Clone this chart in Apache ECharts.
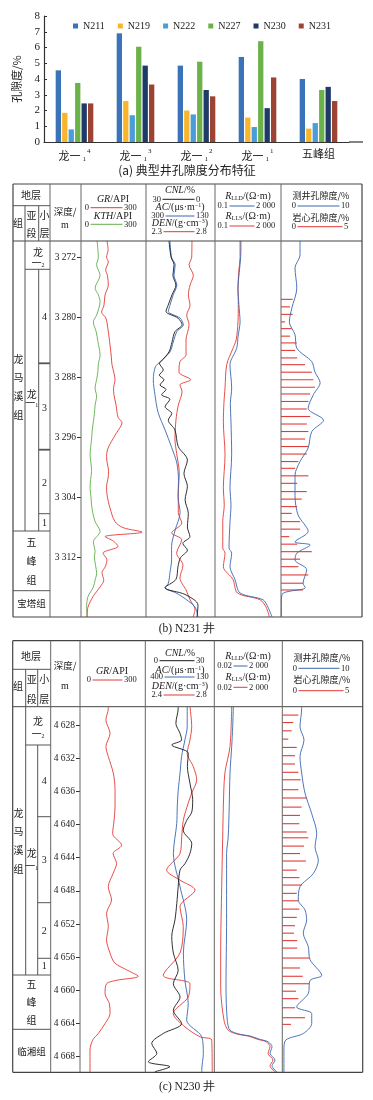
<!DOCTYPE html>
<html><head><meta charset="utf-8">
<script src="https://cdn.jsdelivr.net/npm/echarts@6/dist/echarts.min.js"></script>
<style>html,body{margin:0;padding:0;background:#fff}#c{width:373px;height:1100px}</style>
</head><body><div id="c"></div>
<script>
// ================= (a) porosity bars =================
const categories = ['龙一₁⁴','龙一₁³','龙一₁²','龙一₁¹','五峰组'];
const catMain = ['龙一','龙一','龙一','龙一','五峰组'];
const catSub = ['1','1','1','1',''];
const catSup = ['4','3','2','1',''];
const wells = ['N211','N219','N222','N227','N230','N231'];
const porN211 = [4.55, 6.9, 4.85, 5.4, 4.0];
const porN219 = [1.85, 2.6, 2.0, 1.55, 0.85];
const porN222 = [0.8, 1.7, 1.75, 0.95, 1.2];
const porN227 = [3.75, 6.05, 5.1, 6.4, 3.3];
const porN230 = [2.45, 4.85, 3.3, 2.15, 3.5];
const porN231 = [2.45, 3.65, 2.9, 4.1, 2.6];
const yTicksA = [0,1,2,3,4,5,6,7,8];

// ================= (b) N231 well =================
const depthTicksB = [3272,3280,3288,3296,3304,3312];
const grB = [[120,3269.8],[125,3271.0],[118,3272.0],[126,3272.6],[114,3273.7],[122,3274.4],[126,3275.7],[111,3277.0],[106,3278.4],[95,3279.3],[115,3280.1],[125,3281.7],[134,3283.7],[140,3285.3],[143,3286.3],[157,3288.3],[150,3289.5],[152,3290.3],[162,3291.7],[171,3293.3],[189,3294.0],[157,3295.7],[125,3297.4],[118,3298.5],[120,3299.2],[127,3300.5],[125,3301.4],[118,3302.5],[120,3303.6],[134,3305.4],[157,3307.2],[194,3308.0],[282,3308.6],[111,3309.2],[150,3309.8],[171,3310.5],[101,3311.4],[120,3312.3],[112,3313.2],[97,3314.0],[105,3315.0],[88,3315.9],[55,3317.2],[32,3318.6],[28,3319.9]];
const kthB = [[74,3269.8],[80,3272.0],[72,3273.0],[88,3274.4],[65,3276.1],[80,3277.0],[88,3277.9],[72,3279.7],[57,3280.6],[70,3281.9],[78,3283.2],[88,3285.0],[80,3286.2],[78,3287.2],[72,3288.3],[65,3289.4],[72,3290.5],[65,3291.7],[62,3292.8],[57,3293.9],[52,3295.0],[49,3296.1],[45,3297.2],[42,3298.3],[46,3299.4],[49,3300.5],[44,3301.6],[42,3302.8],[46,3303.9],[49,3305.0],[55,3306.1],[65,3307.2],[88,3308.5],[57,3309.9],[65,3311.2],[62,3311.9],[72,3314.1],[65,3315.0],[57,3315.9],[32,3317.2],[26,3318.5],[28,3319.9]];
const acB = [[241,3269.8],[237,3272.0],[228,3273.0],[231,3274.4],[224,3275.7],[233,3277.0],[241,3278.4],[245,3279.2],[216,3280.1],[208,3281.0],[224,3281.9],[233,3283.3],[241,3284.6],[265,3285.9],[277,3286.6],[282,3288.3],[278,3290.3],[270,3292.7],[253,3295.0],[237,3297.3],[224,3299.4],[220,3301.7],[221,3303.9],[216,3306.0],[228,3308.3],[237,3310.5],[237,3312.3],[241,3314.0],[245,3315.4],[253,3316.0],[226,3316.7],[200,3317.6],[179,3318.6],[172,3319.9]];
const cnlB = [[20.0,3269.8],[19.1,3272.0],[17.8,3273.0],[18.3,3274.4],[17.0,3275.7],[18.7,3277.0],[20.4,3278.4],[21.3,3279.2],[16.1,3280.1],[14.3,3281.0],[17.4,3281.9],[18.7,3283.3],[20.0,3284.6],[23.5,3285.9],[24.2,3286.1],[22.5,3287.0],[24.2,3287.7],[22.2,3288.3],[23.9,3289.0],[21.3,3289.6],[23.2,3290.3],[19.6,3290.9],[21.7,3291.9],[18.8,3292.8],[20.3,3293.7],[17.4,3295.0],[16.0,3297.2],[12.0,3299.0],[13.5,3300.8],[12.0,3302.5],[13.0,3304.3],[11.6,3306.1],[12.0,3307.9],[10.9,3309.2],[14.0,3310.1],[12.0,3311.0],[15.0,3312.0],[16.1,3313.2],[17.0,3314.9],[21.7,3316.0],[13.0,3316.9],[7.4,3318.3],[7.8,3319.9]];
const denB = [[2.633,3269.8],[2.631,3272.0],[2.612,3273.0],[2.643,3274.4],[2.619,3275.7],[2.607,3277.0],[2.619,3278.4],[2.595,3279.7],[2.612,3281.0],[2.590,3283.0],[2.590,3285.0],[2.546,3285.9],[2.539,3287.3],[2.624,3288.3],[2.546,3289.0],[2.561,3289.9],[2.534,3291.7],[2.517,3293.7],[2.510,3296.3],[2.522,3298.1],[2.541,3300.7],[2.534,3303.4],[2.534,3306.0],[2.559,3307.4],[2.486,3308.7],[2.559,3309.6],[2.522,3311.4],[2.568,3313.0],[2.546,3314.7],[2.590,3316.3],[2.619,3317.6],[2.655,3318.9],[2.641,3319.9]];
const rlldB = [[4.9,3269.8],[4.7,3272.0],[3.8,3274.0],[3.15,3276.1],[3.6,3278.3],[4.3,3280.6],[3.2,3282.5],[2.6,3284.1],[0.95,3286.3],[1.22,3289.4],[1.0,3291.5],[1.1,3293.9],[1.22,3298.3],[0.95,3302.7],[1.1,3305.0],[0.95,3307.2],[0.82,3310.7],[1.22,3311.4],[0.95,3313.2],[2.0,3314.9],[4.3,3316.7],[134,3317.6],[284,3318.6],[520,3319.9]];
const rllsB = [[4.3,3269.8],[4.3,3272.0],[3.5,3274.0],[3.15,3276.1],[3.3,3278.3],[3.15,3280.6],[2.4,3283.0],[1.49,3284.1],[0.58,3286.3],[0.45,3289.4],[0.38,3291.5],[0.35,3293.9],[0.45,3298.3],[0.35,3302.7],[0.4,3305.0],[0.32,3307.2],[0.32,3310.7],[0.45,3311.4],[0.35,3313.2],[1.49,3314.9],[2.9,3316.7],[86,3317.6],[215,3318.6],[350,3319.9]];
const porLogB = [[2.35,3269.8],[2.35,3271.7],[1.73,3273.4],[1.95,3276.1],[1.33,3278.8],[1.03,3280.6],[1.73,3282.3],[1.95,3284.1],[3.8,3285.9],[4.2,3287.3],[4.83,3288.7],[4.0,3290.3],[3.35,3292.1],[5.24,3293.7],[3.8,3295.2],[3.35,3297.4],[2.35,3299.2],[1.73,3301.0],[1.73,3303.7],[2.1,3306.3],[3.35,3308.5],[1.73,3309.9],[3.6,3310.3],[1.95,3311.4],[1.73,3312.3],[3.18,3313.6],[2.73,3315.4],[3.0,3316.0],[0.29,3316.7],[0.05,3317.6],[0.05,3319.9]];
const porCoreB = [[0.72,3277.6],[0.56,3278.6],[0.72,3279.6],[0.25,3280.6],[0.66,3281.5],[0.56,3282.5],[0.97,3283.4],[0.87,3284.4],[1.0,3285.4],[1.49,3286.3],[1.9,3287.3],[2.0,3288.3],[2.1,3289.3],[1.8,3290.2],[1.69,3291.2],[1.59,3292.2],[1.8,3293.2],[1.59,3294.2],[1.69,3295.2],[1.49,3296.2],[1.69,3297.2],[1.59,3298.2],[1.07,3299.2],[0.87,3300.1],[1.69,3301.1],[1.0,3302.1],[1.59,3303.2],[1.28,3304.2],[1.0,3305.2],[0.66,3306.1],[1.18,3307.2],[1.18,3308.2],[0.51,3309.2],[1.0,3310.2],[1.9,3311.2],[1.18,3312.2],[1.07,3313.2],[1.69,3314.3],[1.36,3315.4],[1.36,3316.3]];

// ================= (c) N230 well =================
const depthTicksC = [4628,4632,4636,4640,4644,4648,4652,4656,4660,4664,4668];
const grC = [[130,4625.8],[130,4626.0],[119,4627.4],[138,4629.0],[119,4630.6],[130,4631.8],[153,4633.8],[161,4635.8],[161,4637.9],[156,4639.6],[150,4641.1],[191,4642.5],[152,4643.5],[168,4644.7],[152,4645.9],[130,4647.5],[145,4649.1],[122,4650.7],[130,4652.3],[122,4653.9],[138,4655.5],[160,4656.7],[220,4657.6],[268,4658.3],[165,4658.8],[122,4659.2],[115,4660.4],[135,4661.6],[138,4662.8],[115,4664.0],[84,4665.2],[58,4666.0],[46,4667.2],[46,4669.9]];
const cnlC = [[14.3,4625.8],[14.3,4626.0],[13.3,4627.8],[15.1,4629.0],[15.8,4629.8],[11.5,4630.4],[18.7,4631.4],[18.3,4633.0],[19.4,4635.0],[20.6,4637.0],[20.2,4638.5],[18.0,4639.5],[16.5,4640.7],[20.2,4642.3],[19.4,4643.5],[17.3,4644.7],[15.1,4645.5],[14.3,4647.5],[13.7,4649.5],[12.9,4651.5],[11.5,4653.5],[12.2,4655.5],[14.3,4657.6],[12.2,4659.2],[15.1,4660.8],[12.2,4662.4],[15.8,4664.0],[7.8,4665.2],[2.8,4666.4],[5.0,4667.6],[1.3,4668.6],[10.7,4669.2],[4.2,4669.8]];
const acC = [[236,4625.8],[236,4628.2],[245,4629.8],[258,4631.8],[264,4633.8],[271,4635.8],[275,4637.9],[277,4639.9],[290,4643.5],[264,4647.5],[238,4651.5],[251,4655.5],[245,4658.8],[232,4661.6],[238,4663.6],[179,4665.6],[173,4667.6],[179,4669.6],[179,4669.9]];
const denC = [[2.659,4625.8],[2.669,4628.2],[2.659,4629.8],[2.643,4631.4],[2.678,4633.0],[2.698,4634.6],[2.669,4636.2],[2.649,4637.4],[2.620,4639.5],[2.611,4641.5],[2.601,4643.5],[2.524,4645.5],[2.601,4646.7],[2.688,4647.9],[2.601,4649.9],[2.620,4652.3],[2.601,4655.5],[2.504,4658.2],[2.659,4659.2],[2.649,4660.8],[2.562,4662.8],[2.630,4664.4],[2.717,4665.6],[2.785,4666.0],[2.788,4669.9]];
const rlldC = [[0.5,4625.8],[0.45,4628.2],[0.38,4630.6],[0.285,4633.8],[0.25,4637.9],[0.21,4641.5],[0.16,4643.5],[0.16,4651.5],[0.145,4659.6],[0.18,4663.6],[0.285,4664.8],[1.6,4665.3],[8.5,4665.5],[44,4665.9],[180,4666.2],[350,4666.8],[250,4667.6],[580,4668.4],[350,4669.1],[900,4669.9]];
const rllsC = [[0.38,4625.8],[0.285,4630.6],[0.12,4633.8],[0.092,4637.9],[0.083,4641.5],[0.07,4647.5],[0.059,4655.5],[0.059,4659.6],[0.103,4663.6],[0.21,4664.8],[1.1,4665.3],[6,4665.5],[30,4665.9],[130,4666.2],[250,4666.8],[180,4667.6],[410,4668.4],[250,4669.1],[690,4669.9]];
const porLogC = [[2.41,4625.8],[2.41,4626.0],[2.2,4628.2],[2.7,4629.8],[2.2,4631.8],[2.41,4633.8],[2.82,4636.2],[3.66,4638.7],[4.28,4641.1],[4.07,4642.7],[4.48,4644.3],[3.86,4645.9],[2.2,4647.5],[1.99,4649.1],[2.82,4650.3],[3.03,4651.5],[2.61,4653.1],[3.23,4654.7],[3.45,4656.3],[4.9,4658.2],[3.45,4658.8],[3.23,4660.4],[1.79,4662.0],[3.66,4662.8],[3.66,4664.0],[2.61,4665.2],[0.42,4666.0],[0.2,4667.2],[0.2,4669.9]];
const porCoreC = [[1.0,4626.8],[0.68,4627.7],[0.58,4628.7],[0.37,4629.7],[0.9,4630.7],[0.79,4631.7],[0.79,4632.7],[1.0,4633.7],[1.14,4634.6],[1.0,4635.8],[1.52,4636.8],[1.2,4637.9],[1.1,4638.9],[1.06,4639.9],[1.52,4640.9],[1.62,4641.6],[1.35,4642.6],[1.1,4643.5],[1.47,4644.4],[0.9,4645.5],[1.06,4646.4],[1.2,4647.3],[0.9,4648.3],[1.0,4649.2],[1.06,4650.2],[0.9,4651.2],[0.79,4652.2],[0.73,4653.1],[0.93,4654.0],[0.93,4654.9],[1.68,4656.1],[1.1,4657.3],[1.27,4658.3],[1.68,4659.2],[0.85,4660.1],[1.0,4661.0],[0.79,4662.1],[1.41,4663.3],[0.54,4664.1]];

// ================= styles =================
const CJK = '"Noto Sans CJK SC", sans-serif';
const SERIF = '"Liberation Serif", "DejaVu Serif", serif';
const wellColors = ['#3b73b9','#f8b52b','#4b9dd8','#6cb24a','#1e3a68','#9b4433'];
const RED = '#e23b36', BLUE = '#3a66b0', GREEN = '#5fb04a', BLACK = '#1a1a1a';
const LINEC = '#555';

const option = {animation:false, grid:[], xAxis:[], yAxis:[], series:[], graphic:{elements:[]}};
const G = option.graphic.elements;

// ---- chart (a)
option.grid.push({left:44, top:16, width:305, height:126});
option.xAxis.push({type:'category', gridIndex:0, data:categories,
  axisLine:{lineStyle:{color:'#333', width:1.2}}, axisTick:{show:false},
  axisLabel:{margin:6, interval:0, formatter:(v,i)=> '{m|'+catMain[i]+'}' + (catSub[i] ? '{s|'+catSub[i]+'}{p|'+catSup[i]+'}' : ''),
    rich:{m:{fontFamily:CJK, fontSize:11, color:'#222'}, s:{fontFamily:SERIF, fontSize:7, color:'#222', verticalAlign:'bottom', padding:[8,0,0,2]}, p:{fontFamily:SERIF, fontSize:7, color:'#222', verticalAlign:'top', padding:[0,0,8,1]}}}});
option.yAxis.push({type:'value', gridIndex:0, min:0, max:8, interval:1,
  axisLine:{show:true, lineStyle:{color:'#333', width:1.2}}, axisTick:{show:true, inside:true, length:3, lineStyle:{color:'#333'}},
  splitLine:{show:false}, axisLabel:{fontFamily:SERIF, fontSize:11, color:'#222', margin:4, customValues:yTicksA},
  name:'孔隙度/%', nameLocation:'middle', nameGap:22, nameRotate:90, nameTextStyle:{fontFamily:CJK, fontSize:11, color:'#222'}});
const barData = [porN211, porN219, porN222, porN227, porN230, porN231];
wells.forEach((w,k)=>{
  option.series.push({type:'bar', name:w, xAxisIndex:0, yAxisIndex:0, data:barData[k], barWidth:5.3, barGap:'22%', itemStyle:{color:wellColors[k]}});
});
option.legend = {left:68, top:16, itemWidth:5, itemHeight:5, itemGap:13, icon:'rect', data:wells,
  textStyle:{fontFamily:SERIF, fontSize:10, color:'#222'}};

// ---- helpers
function T(x, y, text, size, extra){
  G.push({type:'text', x, y, z:100, silent:true, style:Object.assign({text, fill:'#222', font:(size||10)+'px '+CJK,
    textAlign:'center', textVerticalAlign:'middle', align:'center', verticalAlign:'middle'}, extra||{})});
}
function L(x1,y1,x2,y2,color,w){ G.push({type:'line', z:100, silent:true, shape:{x1,y1,x2,y2}, style:{stroke:color||LINEC, lineWidth:w||1}}); }
const richHdr = {
  i:{fontFamily:SERIF, fontStyle:'italic', fontSize:10, fill:'#222', color:'#222'},
  n:{fontFamily:SERIF, fontSize:10, color:'#222'},
  c:{fontFamily:CJK, fontSize:9.5, color:'#222'},
  s:{fontFamily:SERIF, fontSize:6, color:'#222', verticalAlign:'bottom', padding:[4,0,0,0]},
  u:{fontFamily:SERIF, fontSize:6, color:'#222', verticalAlign:'top', padding:[0,0,4,0]},
  k:{fontFamily:SERIF, fontSize:8.5, color:'#222'}
};
function R(x,y,text){ T(x,y,text,10,{rich:richHdr, font:'10px '+SERIF}); }
function scaleLine(x0,x1,y,l0,l1,color,lbl0,lbl1){
  T(x0,y,lbl0,8.5,{font:'8.5px '+SERIF, textAlign:'right', align:'right'});
  L(x0+1.5,y,x1-1.5,y,color,1);
  T(x1,y,lbl1,8.5,{font:'8.5px '+SERIF, textAlign:'left', align:'left'});
}
const fmtDepth = v => String(v).replace(/(\d)(\d{3})$/, '$1 $2');

function addTrack(left, width, top, height, dMin, dMax, ticks){
  const gi = option.grid.length;
  option.grid.push({left, top, width, height});
  const yi = option.yAxis.length;
  option.yAxis.push({type:'value', gridIndex:gi, inverse:true, min:dMin, max:dMax, show:true,
    axisLine:{show:false}, splitLine:{show:false},
    axisTick: ticks ? {show:true, length:4, customValues:ticks, lineStyle:{color:'#333'}} : {show:false},
    axisLabel: ticks ? {show:true, customValues:ticks, formatter:fmtDepth, margin:5, fontFamily:SERIF, fontSize:9.5, color:'#222'} : {show:false}});
  return {gi, yi};
}
function addX(gi, cfg){
  const xi = option.xAxis.length;
  option.xAxis.push(Object.assign({gridIndex:gi, show:false, splitLine:{show:false}}, cfg));
  return xi;
}
function curve(xi, yi, data, color, w){
  option.series.push({type:'line', xAxisIndex:xi, yAxisIndex:yi, data, showSymbol:false, symbol:'none', smooth:0.3,
    silent:true, lineStyle:{color, width:w||0.9}});
}
function coreBars(xi, yi, data){
  option.series.push({type:'custom', xAxisIndex:xi, yAxisIndex:yi, data, silent:true, encode:{x:0, y:1},
    renderItem:(params, api)=>{
      const p0 = api.coord([0, api.value(1)]);
      const p1 = api.coord([api.value(0), api.value(1)]);
      return {type:'line', shape:{x1:p0[0], y1:p0[1], x2:p1[0], y2:p1[1]}, style:{stroke:RED, lineWidth:1.1}};
    }});
}

// ---- panel (b)
(function(){
  const top=241, bot=617, H=bot-top, dMin=3269.83, dMax=3319.9;
  const tGR = addTrack(81,65,top,H,dMin,dMax,depthTicksB);
  const tCN = addTrack(146,69,top,H,dMin,dMax,null);
  const tR  = addTrack(215,66,top,H,dMin,dMax,null);
  const tP  = addTrack(281,81,top,H,dMin,dMax,null);
  const xGR = addX(tGR.gi,{type:'value',min:0,max:300});
  const xCNL= addX(tCN.gi,{type:'value',min:0,max:30,inverse:true});
  const xAC = addX(tCN.gi,{type:'value',min:130,max:300,inverse:true});
  const xDEN= addX(tCN.gi,{type:'value',min:2.3,max:2.8});
  const xR  = addX(tR.gi,{type:'log',min:0.1,max:2000,logBase:10});
  const xP  = addX(tP.gi,{type:'value',min:0,max:10});
  const xC  = addX(tP.gi,{type:'value',min:0,max:5});
  curve(xGR,tGR.yi,kthB,GREEN);
  curve(xGR,tGR.yi,grB,RED);
  curve(xDEN,tCN.yi,denB,RED);
  curve(xAC,tCN.yi,acB,BLUE);
  curve(xCNL,tCN.yi,cnlB,BLACK);
  curve(xR,tR.yi,rllsB,RED);
  curve(xR,tR.yi,rlldB,BLUE);
  coreBars(xC,tP.yi,porCoreB);
  curve(xP,tP.yi,porLogB,BLUE);
  const T0=184;
  L(13,T0,362,T0,'#444',1.2); L(13,top,362,top,'#444',1); L(13,bot,362,bot,'#444',1.2);
  L(13,T0,13,bot,'#444',1.2); L(362,T0,362,bot,'#444',1.2);
  [50,81,146,215,281].forEach(x=>L(x,T0,x,bot,'#666',1));
  L(13,205.7,50,205.7);
  L(25,205.7,25,531); L(38.7,205.7,38.7,top); L(38.7,269.3,38.7,531);
  L(25,269.3,50,269.3);
  L(38.7,363.3,50,363.3,'#555',1.8); L(38.7,449.7,50,449.7,'#555',1.8); L(38.7,513.7,50,513.7);
  L(13,531,50,531); L(13,590.7,50,590.7);
  T(31,195,'地层',10); T(18,223.3,'组',10); T(31.5,215,'亚',10); T(31.5,233.3,'段',10); T(44.5,215,'小',10); T(44.5,233.3,'层',10);
  T(65,211.7,'深度/',9.5); T(65,225,'m',10,{font:'10px '+SERIF});
  R(113,199.5,'{i|GR}{n|/API}'); scaleLine(89,124,207.7,0,0,RED,'0','300');
  R(113,216.5,'{i|KTH}{n|/API}'); scaleLine(89,124,224.3,0,0,GREEN,'0','300');
  R(180,190.5,'{i|CNL}{n|/%}'); scaleLine(161,196,199.3,0,0,BLACK,'30','0');
  R(180,207.5,'{i|AC}{n|/(μs·m}{u|−1}{n|)}'); scaleLine(164,196,216,0,0,BLUE,'300','130');
  R(180,223.5,'{i|DEN}{n|/(g·cm}{u|−3}{n|)}'); scaleLine(162,196,231.7,0,0,RED,'2.3','2.8');
  R(248,196,'{i|R}{s|LLD}{n|/(Ω·m)}'); scaleLine(228,256,206,0,0,BLUE,'0.1','2 000');
  R(248,216.7,'{i|R}{s|LLS}{n|/(Ω·m)}'); scaleLine(228,256,226,0,0,RED,'0.1','2 000');
  T(321,196,'测井孔隙度/%',9); scaleLine(296,341,206,0,0,BLUE,'0','10');
  T(321,217.3,'岩心孔隙度/%',9); scaleLine(296,344,226.7,0,0,RED,'0','5');
  T(38,252.5,'龙',10); T(38,263.5,'一{s|2}',10,{rich:richHdr});
  ['龙','马','溪','组'].forEach((c,i)=>T(18.5,359+i*18.7,c,10));
  T(31.7,394,'龙',10); T(31.7,403,'一{s|1}',10,{rich:richHdr});
  T(44.5,317,'4',10,{font:'10px '+SERIF}); T(44.5,408,'3',10,{font:'10px '+SERIF}); T(44.5,483,'2',10,{font:'10px '+SERIF}); T(44.5,523,'1',10,{font:'10px '+SERIF});
  T(31.5,542,'五',10); T(31.5,561.5,'峰',10); T(31.5,580,'组',10);
  T(31.5,603.5,'宝塔组',9.5);
  T(187,628.5,'(b) N231 井',11.5,{font:'11.5px '+SERIF});
})();

// ---- panel (c)
(function(){
  const top=706.7, bot=1072.3, H=bot-top, dMin=4625.79, dMax=4669.88;
  const tGR = addTrack(80,65.3,top,H,dMin,dMax,depthTicksC);
  const tCN = addTrack(145.3,69,top,H,dMin,dMax,null);
  const tR  = addTrack(214.3,68,top,H,dMin,dMax,null);
  const tP  = addTrack(282.3,80.4,top,H,dMin,dMax,null);
  const xGR = addX(tGR.gi,{type:'value',min:0,max:300});
  const xCNL= addX(tCN.gi,{type:'value',min:0,max:30});
  const xAC = addX(tCN.gi,{type:'value',min:130,max:400,inverse:true});
  const xDEN= addX(tCN.gi,{type:'value',min:2.4,max:2.8});
  const xR  = addX(tR.gi,{type:'log',min:0.02,max:2000,logBase:10});
  const xP  = addX(tP.gi,{type:'value',min:0,max:10});
  const xC  = addX(tP.gi,{type:'value',min:0,max:5});
  curve(xGR,tGR.yi,grC,RED);
  curve(xDEN,tCN.yi,denC,RED);
  curve(xAC,tCN.yi,acC,BLUE);
  curve(xCNL,tCN.yi,cnlC,BLACK);
  curve(xR,tR.yi,rllsC,RED);
  curve(xR,tR.yi,rlldC,BLUE);
  coreBars(xC,tP.yi,porCoreC);
  curve(xP,tP.yi,porLogC,BLUE);
  const T0=640.7;
  L(12.7,T0,362.7,T0,'#444',1.2); L(12.7,top,362.7,top,'#444',1); L(12.7,bot,362.7,bot,'#444',1.2);
  L(12.7,T0,12.7,bot,'#444',1.2); L(362.7,T0,362.7,bot,'#444',1.2);
  [50.7,80,145.3,214.3,282.3].forEach(x=>L(x,T0,x,bot,'#666',1));
  L(12.7,669.3,50.7,669.3);
  L(25.7,669.3,25.7,975); L(37.7,669.3,37.7,top); L(37.7,745,37.7,975);
  L(25.7,745,50.7,745);
  L(37.7,816.7,50.7,816.7); L(37.7,902.7,50.7,902.7); L(37.7,958.3,50.7,958.3);
  L(12.7,975,50.7,975); L(12.7,1029.3,50.7,1029.3);
  T(31,656.7,'地层',10); T(18,686.7,'组',10); T(31.7,679.3,'亚',10); T(31.7,699.3,'段',10); T(44.2,679.3,'小',10); T(44.2,699.3,'层',10);
  T(65,665,'深度/',9.5); T(65,686.7,'m',10,{font:'10px '+SERIF});
  R(112,671,'{i|GR}{n|/API}'); scaleLine(91,124,680,0,0,RED,'0','300');
  R(180,653,'{i|CNL}{n|/%}'); scaleLine(158,196,660.7,0,0,BLACK,'0','30');
  R(180,670,'{i|AC}{n|/(μs·m}{u|−1}{n|)}'); scaleLine(163,196,677,0,0,BLUE,'400','130');
  R(180,686.5,'{i|DEN}{n|/(g·cm}{u|−3}{n|)}'); scaleLine(162,196,695,0,0,RED,'2.4','2.8');
  R(248,656,'{i|R}{s|LLD}{n|/(Ω·m)}'); scaleLine(232,249,666,0,0,BLUE,'0.02','2 000');
  R(248,677.7,'{i|R}{s|LLS}{n|/(Ω·m)}'); scaleLine(232,249,687.3,0,0,RED,'0.02','2 000');
  T(322,657.3,'测井孔隙度/%',9); scaleLine(297,341,668.3,0,0,BLUE,'0','10');
  T(322,679.3,'岩心孔隙度/%',9); scaleLine(297,345,690.7,0,0,RED,'0','5');
  T(38,721,'龙',10); T(38,734,'一{s|2}',10,{rich:richHdr});
  ['龙','马','溪','组'].forEach((c,i)=>T(18.5,813+i*18.7,c,10));
  T(31.7,853,'龙',10); T(31.7,866.5,'一{s|1}',10,{rich:richHdr});
  T(44.2,781.7,'4',10,{font:'10px '+SERIF}); T(44.2,860,'3',10,{font:'10px '+SERIF}); T(44.2,931.7,'2',10,{font:'10px '+SERIF}); T(44.2,966.7,'1',10,{font:'10px '+SERIF});
  T(31.5,984,'五',10); T(31.5,1002,'峰',10); T(31.5,1020.7,'组',10);
  T(31.5,1051.7,'临湘组',9.5);
  T(187,1087,'(c) N230 井',11.5,{font:'11.5px '+SERIF});
})();

L(349,142,363,142,'#333',1.2);
T(187,170,'(a) 典型井孔隙度分布特征',12);

const chart = echarts.init(document.getElementById('c'), null, {renderer:'canvas'});
chart.setOption(option);
</script>
</body></html>
